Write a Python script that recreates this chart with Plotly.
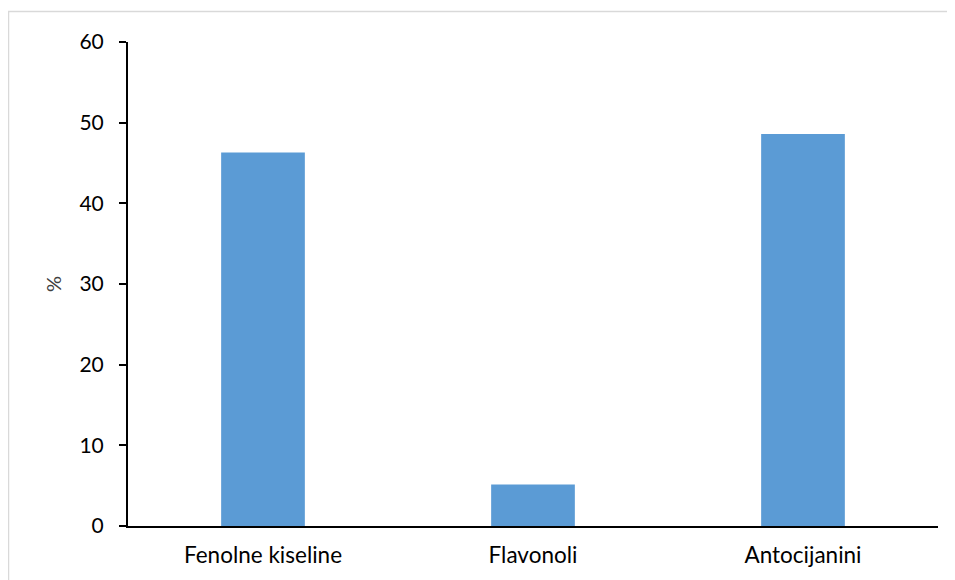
import plotly.graph_objects as go

categories = ["Fenolne kiseline", "Flavonoli", "Antocijanini"]
values = [46.3, 5.15, 48.6]
y_ticks = [0, 10, 20, 30, 40, 50, 60]

OFF = 8  # page offset of the figure in the browser
W, H = 955, 580
L = 128 - OFF
T = 41.5 - OFF
R = W - (938 - OFF)
B = H - (526 - OFF)
pw = W - L - R
ph = H - T - B

def px_x(p):
    return (p - OFF - L) / pw

def px_y(p):
    return (H - B - (p - OFF)) / ph

fig = go.Figure(go.Bar(
    x=categories, y=values, width=0.31,
    marker=dict(color="#5B9BD5", line=dict(width=0)),
))

fig.update_layout(
    width=W, height=H,
    margin=dict(l=L, r=R, t=T, b=B, pad=0),
    paper_bgcolor="white", plot_bgcolor="white",
    font=dict(family="Lato, Open Sans, sans-serif", size=21, color="black"),
    showlegend=False,
    shapes=[dict(type="rect", xref="paper", yref="paper",
                 x0=px_x(8.5), x1=px_x(952), y0=px_y(620), y1=px_y(11),
                 line=dict(color="#D9D9D9", width=1.5), layer="below")],
)
fig.update_xaxes(showline=True, linecolor="black", linewidth=2, ticks="",
                 showgrid=False, zeroline=False, ticklabelstandoff=8,
                 tickfont=dict(size=22.5))
fig.update_yaxes(range=[0, 60], tickvals=y_ticks, showline=True, linecolor="black",
                 linewidth=2, ticks="outside", ticklen=7, tickwidth=2, tickcolor="black",
                 showgrid=False, zeroline=False, ticklabelstandoff=11,
                 title=dict(text="%", font=dict(size=20, color="#404040"), standoff=12),
                 tickfont=dict(size=21))

fig.write_html("out.html")
